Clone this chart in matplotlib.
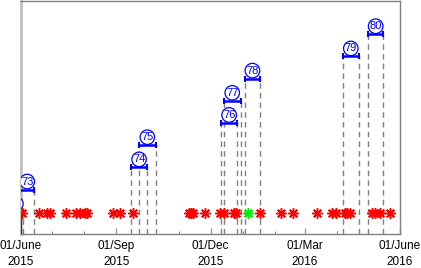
import numpy as np
import matplotlib
matplotlib.use("Agg")
import matplotlib.pyplot as plt
import matplotlib.dates as mdates

plt.rcParams['font.family'] = ['Liberation Sans', 'DejaVu Sans']

# ---- data ----
event_ids = [72, 73, 74, 75, 76, 77, 78, 79, 80]
event_start = ['2015-05-20', '2015-05-31', '2015-09-15', '2015-09-23', '2015-12-11',
               '2015-12-14', '2016-01-03', '2016-04-07', '2016-05-01']
event_end = ['2015-06-03', '2015-06-14', '2015-10-01', '2015-10-09', '2015-12-27',
             '2015-12-30', '2016-01-18', '2016-04-22', '2016-05-16']
event_level = [1, 2, 3, 4, 5, 6, 7, 8, 9]

red_dates = ['2015-06-02', '2015-06-18', '2015-06-26', '2015-06-29', '2015-07-14',
             '2015-07-24', '2015-07-28', '2015-08-02', '2015-08-04', '2015-08-29',
             '2015-09-05', '2015-09-17', '2015-11-10', '2015-11-12', '2015-11-14',
             '2015-11-26', '2015-12-10', '2015-12-14', '2015-12-24', '2015-12-26',
             '2016-01-18', '2016-02-07', '2016-02-19', '2016-03-13', '2016-03-27',
             '2016-03-31', '2016-04-09', '2016-04-11', '2016-04-14', '2016-05-05',
             '2016-05-08', '2016-05-13', '2016-05-22']
green_dates = ['2016-01-06']
marker_level = 0.96

major_ticks = ['2015-06-01', '2015-09-01', '2015-12-01', '2016-03-01', '2016-06-01']
major_labels = ['01/June\n2015', '01/Sep\n2015', '01/Dec\n2015', '01/Mar\n2016', '01/June\n2016']
minor_ticks = ['2015-07-01', '2015-08-01', '2015-10-01', '2015-11-01', '2016-01-01',
               '2016-02-01', '2016-04-01', '2016-05-01']
x_range = ['2015-06-01', '2016-06-01']

# ---- plot ----
fig = plt.figure(figsize=(4.21, 2.68), dpi=100)
ax = fig.add_axes([21/421, 1 - 234/268, 379/421, 233/268])

d = lambda s: mdates.date2num(np.datetime64(s))

for eid, s, e, lvl in zip(event_ids, event_start, event_end, event_level):
    xs, xe = d(s), d(e)
    ax.plot([xs, xs], [0, lvl], color='#808080', lw=1.0, ls=(0, (4, 3)), zorder=1)
    ax.plot([xe, xe], [0, lvl], color='#808080', lw=1.0, ls=(0, (4, 3)), zorder=1)
    ax.plot([xs, xe], [lvl, lvl], color='#0000ff', lw=1.8, marker='|', ms=5, mew=1.5,
            zorder=3, solid_capstyle='butt')
    t = ax.annotate(str(eid), xy=((xs + xe) / 2, lvl), xytext=(0, 5.8), textcoords='offset points',
                    ha='center', va='center', fontsize=8, color='#0000ff',
                    bbox=dict(boxstyle='circle,pad=0.1', fc='white', ec='#0000ff', lw=0.9),
                    annotation_clip=False, zorder=4)
    t.set_clip_on(True)
    t.set_clip_box(ax.bbox)

# clipped first event: its end line drawn in blue
ax.plot([d(x_range[0]), d(x_range[0])], [0, event_level[0]], color='#0000ff', lw=1.2, zorder=2)

rx = [d(s) for s in red_dates]
gx = [d(s) for s in green_dates]
for xs_, col in ((rx, '#ff0000'), (gx, '#00ee00')):
    ax.plot(xs_, [marker_level] * len(xs_), ls='none', marker=(8, 2, 0), ms=7.5, mew=1.1,
            color=col, zorder=5)

ax.set_xlim(d(x_range[0]), d(x_range[1]))
ax.set_ylim(0, 10.5)
ax.set_yticks([])
ax.set_xticks([d(s) for s in major_ticks])
ax.set_xticklabels(major_labels, fontsize=8.5, linespacing=1.45)
ax.set_xticks([d(s) for s in minor_ticks], minor=True)
ax.tick_params(axis='x', which='major', direction='in', length=4.5, width=1.0, color='#a0a0a0', pad=4.5)
ax.tick_params(axis='x', which='minor', direction='in', length=2.2, width=0.8, color='#808080')

for sp in ['top', 'right', 'bottom']:
    ax.spines[sp].set_color('#808080')
    ax.spines[sp].set_linewidth(1.0)
ax.spines['left'].set_color('#c0c0c0')
ax.spines['left'].set_linewidth(2.0)
ax.spines['left'].set_zorder(0)

fig.savefig('out.png', dpi=100)
